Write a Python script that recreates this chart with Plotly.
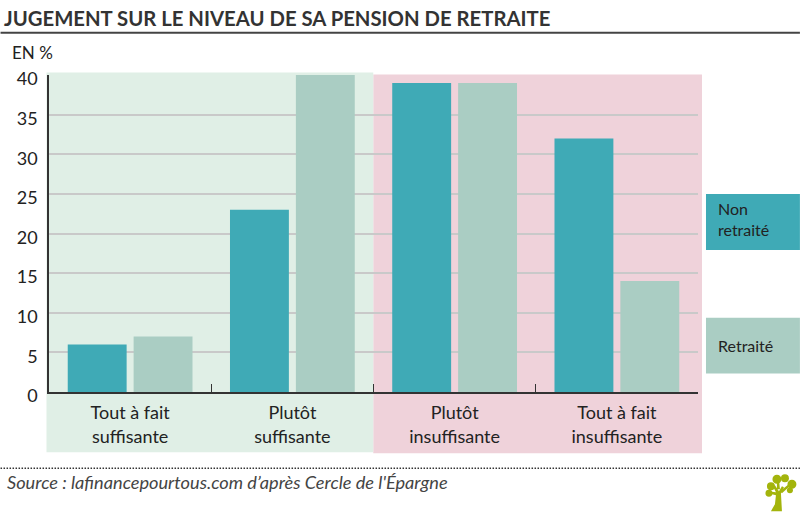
import plotly.graph_objects as go

categories = ["Tout à fait<br>suffisante", "Plutôt<br>suffisante", "Plutôt<br>insuffisante", "Tout à fait<br>insuffisante"]
non_retraite = [6, 23, 39, 32]
retraite = [7, 40, 39, 14]
y_ticks = [0, 5, 10, 15, 20, 25, 30, 35, 40]

W, H = 800, 516
L, R, T, B = 48.5, 698, 74.5, 392.5
FONT = "Lato"
TEAL = "#3faab6"
SAGE = "#aacdc3"
LEAF = "#a3b40c"
INK = "#222222"


def px(x):
    return (x - L) / (R - L)


def py(y):
    return (B - y) / (B - T)


def paper_rect(x0, y0, x1, y1, color):
    return dict(type="rect", xref="paper", yref="paper", x0=px(x0), x1=px(x1), y0=py(y0), y1=py(y1),
                fillcolor=color, line_width=0, layer="below")


def paper_line(x0, y0, x1, y1, color, width, dash="solid"):
    return dict(type="line", xref="paper", yref="paper", x0=px(x0), x1=px(x1), y0=py(y0), y1=py(y1),
                line=dict(color=color, width=width, dash=dash), layer="above")


def blob(cx, cy, r):
    return dict(type="circle", xref="paper", yref="paper", x0=px(cx - r), x1=px(cx + r),
                y0=py(cy + r), y1=py(cy - r), fillcolor=LEAF, line_width=0, layer="above")


def polygon(points):
    d = "M " + " L ".join(f"{px(x):.5f},{py(y):.5f}" for x, y in points) + " Z"
    return dict(type="path", xref="paper", yref="paper", path=d, fillcolor=LEAF, line_width=0, layer="above")


def text(x, y, s, size, color=INK, anchor="left", italic=False):
    return dict(xref="paper", yref="paper", x=px(x), y=py(y), text=s, showarrow=False, xanchor=anchor,
                yanchor="middle", align="left", font=dict(family=FONT, size=size, color=color,
                style="italic" if italic else "normal"))


fig = go.Figure()
fig.add_bar(x=categories, y=non_retraite, marker=dict(color=TEAL, line_width=0), name="Non retraité")
fig.add_bar(x=categories, y=retraite, marker=dict(color=SAGE, line_width=0), name="Retraité")

shapes = [
    paper_rect(373, 74, 702, 454, "#efd2da"),
    paper_rect(46, 72, 373, 453, "#e0efe6"),
    paper_rect(706, 194, 800, 250, TEAL),
    paper_rect(706, 318, 800, 374, SAGE),
    paper_line(0, 32, 800, 32, "#444444", 2),
    paper_line(0, 469, 800, 469, "#333333", 1.5, "1.5px,1.5px"),
    # tree logo
    polygon([(771, 512), (782, 512), (781, 494), (784, 488), (782, 487), (779, 492), (775, 486),
             (773, 487), (776, 493), (768, 492), (768, 494), (776, 496), (775, 505)]),
    polygon([(780, 492), (790, 484), (791, 486), (782, 494)]),
    polygon([(777, 490), (777, 480), (779, 480), (780, 490)]),
    blob(769, 494, 3.5), blob(771, 487, 4), blob(777, 480, 4.5), blob(785, 479, 4),
    blob(792, 485, 4.5), blob(790, 491, 3),
]

annotations = [
    text(9, 52, "EN %", 17),
    text(1, 17, "<b>JUGEMENT SUR LE NIVEAU DE SA PENSION DE RETRAITE</b>", 20.3, "#333333"),
    text(4, 483, "Source : lafinancepourtous.com d’après Cercle de l'Épargne", 18.2, "#444444", italic=True),
    text(716, 208, "Non", 16),
    text(716, 229, "retraité", 16),
    text(716, 346, "Retraité", 16),
]

fig.update_layout(
    width=W, height=H, autosize=False,
    margin=dict(l=L, r=W - R, t=T, b=H - B, pad=0),
    paper_bgcolor="white", plot_bgcolor="rgba(0,0,0,0)",
    barmode="group", bargap=0.188, bargroupgap=0.106,
    showlegend=False, shapes=shapes, annotations=annotations,
    font=dict(family=FONT, color=INK),
)
fig.update_xaxes(type="category", tickson="boundaries", ticks="inside", ticklen=8, tickcolor="#333333", tickwidth=1.2,
                 showline=True, linecolor="#333333", linewidth=1.5, showgrid=False, ticklabelstandoff=4,
                 tickfont=dict(family=FONT, size=18, color=INK), range=[-0.5, 3.5], fixedrange=True)
fig.update_yaxes(range=[0, 40], tickvals=y_ticks, showgrid=True, gridcolor="#c9c9c9", gridwidth=1.5,
                 showline=True, linecolor="#333333", linewidth=1.5, ticks="", zeroline=False,
                 tickfont=dict(family=FONT, size=18, color=INK), ticklabelshift=4, ticklabelstandoff=6, fixedrange=True)
fig.write_html("out.html", config={"displayModeBar": False},
               post_script="document.body.style.margin='0';document.documentElement.style.overflow='hidden';")
